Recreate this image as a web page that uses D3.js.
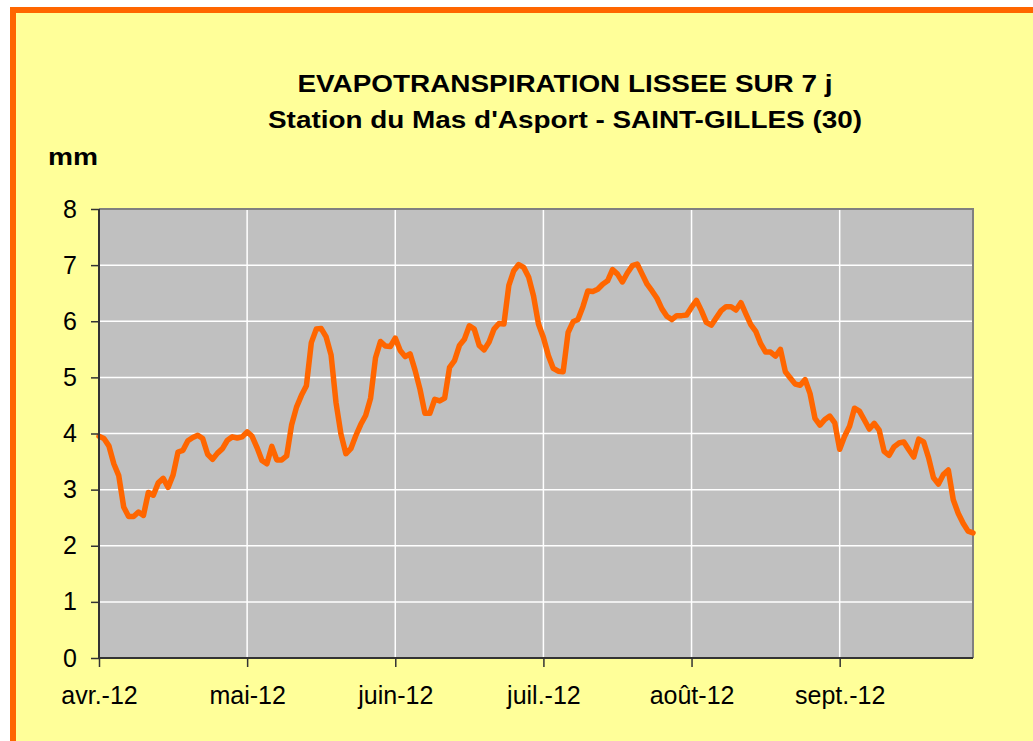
<!DOCTYPE html>
<html><head><meta charset="utf-8">
<script src="https://cdn.jsdelivr.net/npm/d3@7/dist/d3.min.js"></script>
<style>html,body{margin:0;padding:0;background:#fff;}svg{display:block;}</style>
</head><body>
<svg id="c" width="1033" height="741"></svg>
<script>
const titleLines = ["EVAPOTRANSPIRATION LISSEE SUR 7 j", "Station du Mas d'Asport - SAINT-GILLES (30)"];
const yUnit = "mm";
const xTickIndex = [0, 30, 60, 90, 120, 150];
const xTickLabels = ["avr.-12", "mai-12", "juin-12", "juil.-12", "août-12", "sept.-12"];
const yTicks = [0, 1, 2, 3, 4, 5, 6, 7, 8];
const etp = [
3.95,3.91,3.78,3.46,3.25,2.69,2.52,2.52,2.60,2.54,
2.95,2.90,3.12,3.20,3.04,3.26,3.67,3.70,3.87,3.93,
3.97,3.91,3.63,3.54,3.65,3.73,3.88,3.94,3.92,3.94,
4.03,3.95,3.75,3.52,3.46,3.77,3.53,3.53,3.60,4.15,
4.47,4.68,4.85,5.62,5.86,5.87,5.72,5.40,4.55,3.99,
3.64,3.73,3.96,4.16,4.32,4.63,5.35,5.64,5.56,5.55,
5.70,5.48,5.37,5.42,5.13,4.79,4.36,4.36,4.61,4.58,
4.63,5.18,5.30,5.57,5.68,5.92,5.86,5.57,5.49,5.63,
5.86,5.96,5.95,6.64,6.90,7.01,6.96,6.79,6.45,5.95,
5.71,5.39,5.16,5.11,5.10,5.80,5.99,6.03,6.26,6.54,
6.53,6.57,6.66,6.72,6.92,6.84,6.70,6.86,6.99,7.02,
6.84,6.66,6.54,6.41,6.22,6.09,6.03,6.10,6.10,6.11,
6.25,6.37,6.19,5.98,5.93,6.06,6.19,6.26,6.26,6.20,
6.33,6.13,5.94,5.82,5.60,5.45,5.45,5.38,5.50,5.10,
4.99,4.88,4.86,4.96,4.71,4.27,4.15,4.25,4.31,4.19,
3.72,3.95,4.13,4.45,4.40,4.24,4.08,4.18,4.06,3.68,
3.61,3.76,3.83,3.85,3.71,3.58,3.90,3.85,3.57,3.21,
3.10,3.27,3.35,2.82,2.58,2.40,2.26,2.23
];

const svg = d3.select("#c");
const W = 1033, H = 741;
const L = 99, R = 973, T = 209, B = 658;
const FONT = "'Liberation Sans', Arial, sans-serif";

// background + orange frame
svg.append("rect").attr("x", 0).attr("y", 0).attr("width", W).attr("height", H).attr("fill", "#ffffff");
svg.append("rect").attr("x", 13).attr("y", 10).attr("width", W + 40).attr("height", H + 40)
  .attr("fill", "#FFFF99").attr("stroke", "#FF6600").attr("stroke-width", 6);

const x = d3.scaleLinear().domain([0, etp.length - 1]).range([L, R]);
const y = d3.scaleLinear().domain([0, 8]).range([B, T]);

// plot area
svg.append("rect").attr("x", L).attr("y", T).attr("width", R - L).attr("height", B - T).attr("fill", "#C0C0C0");

// grid
const g = svg.append("g");
g.selectAll("line.h").data(yTicks.filter(d => d > 0 && d < 8)).join("line")
  .attr("x1", L).attr("x2", R).attr("y1", d => y(d)).attr("y2", d => y(d))
  .attr("stroke", "#ffffff").attr("stroke-width", 1.5);
g.selectAll("line.v").data(xTickIndex.filter(d => d > 0)).join("line")
  .attr("x1", d => x(d)).attr("x2", d => x(d)).attr("y1", T).attr("y2", B)
  .attr("stroke", "#ffffff").attr("stroke-width", 1.5);

// plot border top/right
svg.append("path").attr("d", `M${L},${T}H${R}V${B}`).attr("fill", "none")
  .attr("stroke", "#808080").attr("stroke-width", 2);

// line
const line = d3.line().x((d, i) => x(i)).y(d => y(d)).curve(d3.curveLinear);
svg.append("path").datum(etp).attr("d", line).attr("fill", "none")
  .attr("stroke", "#FF6600").attr("stroke-width", 5.5).attr("stroke-linejoin", "round").attr("stroke-linecap", "round");

// axes
const yAxis = d3.axisLeft(y).tickValues(yTicks).tickSize(8).tickPadding(14).tickFormat(d3.format("d"));
const ya = svg.append("g").attr("transform", `translate(${L},0)`).call(yAxis);
const xAxis = d3.axisBottom(x).tickValues(xTickIndex).tickSize(9).tickPadding(19)
  .tickFormat((d, i) => xTickLabels[i]);
const xa = svg.append("g").attr("transform", `translate(0,${B})`).call(xAxis);
[ya, xa].forEach(a => {
  a.select(".domain").attr("stroke", "#333333").attr("stroke-width", 2);
  a.selectAll(".tick line").attr("stroke", "#333333").attr("stroke-width", 1.5);
  a.selectAll(".tick text").attr("fill", "#000").style("font-family", FONT).style("font-size", "25px");
});
ya.select(".domain").attr("d", `M0,${T}V${B}`);
xa.select(".domain").attr("d", `M${L},0H${R}`);

// titles
svg.append("text").attr("x", 565).attr("y", 92).attr("text-anchor", "middle")
  .style("font-family", FONT).style("font-size", "24px").style("font-weight", "bold")
  .attr("textLength", 535).attr("lengthAdjust", "spacingAndGlyphs").text(titleLines[0]);
svg.append("text").attr("x", 565).attr("y", 128).attr("text-anchor", "middle")
  .style("font-family", FONT).style("font-size", "24px").style("font-weight", "bold")
  .attr("textLength", 594).attr("lengthAdjust", "spacingAndGlyphs").text(titleLines[1]);
svg.append("text").attr("x", 48).attr("y", 165)
  .style("font-family", FONT).style("font-size", "24px").style("font-weight", "bold")
  .attr("textLength", 50).attr("lengthAdjust", "spacingAndGlyphs")
  .text(yUnit);
</script>
</body></html>
